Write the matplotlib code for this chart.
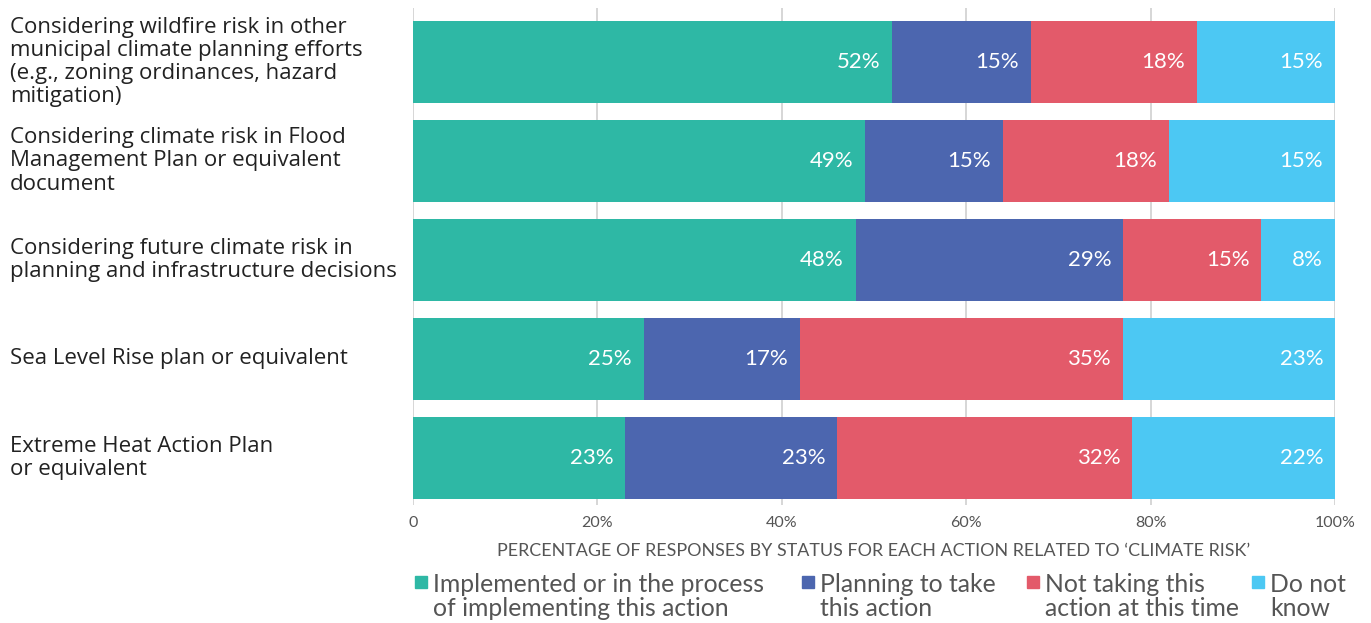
import numpy as np
import matplotlib.pyplot as plt
from matplotlib.transforms import blended_transform_factory
from matplotlib.patches import Rectangle

plt.rcParams['font.family'] = ['Lato', 'DejaVu Sans']

actions = [
    "Considering wildfire risk in other\nmunicipal climate planning efforts\n(e.g., zoning ordinances, hazard\nmitigation)",
    "Considering climate risk in Flood\nManagement Plan or equivalent\ndocument",
    "Considering future climate risk in\nplanning and infrastructure decisions",
    "Sea Level Rise plan or equivalent",
    "Extreme Heat Action Plan\nor equivalent",
]
statuses = [
    "Implemented or in the process\nof implementing this action",
    "Planning to take\nthis action",
    "Not taking this\naction at this time",
    "Do not\nknow",
]
colors = ['#2EB8A5', '#4C66AF', '#E35A6A', '#4CC8F3']

# segment widths as drawn in the picture
implemented = [52, 49, 48, 25, 23]
planning = [15, 15, 29, 17, 23]
not_taking = [18, 18, 15, 35, 32]
dont_know = [15, 18, 8, 23, 22]
# printed labels
implemented_lbl = [52, 49, 48, 25, 23]
planning_lbl = [15, 15, 29, 17, 23]
not_taking_lbl = [18, 18, 15, 35, 32]
dont_know_lbl = [15, 15, 8, 23, 22]

ticks = [0, 20, 40, 60, 80, 100]
tick_labels = ['0', '20%', '40%', '60%', '80%', '100%']

fig = plt.figure(figsize=(13.71, 6.23), dpi=100)
ax = fig.add_axes([413 / 1371, 1 - 505 / 623, 922 / 1371, 497 / 623])

y = np.arange(len(actions))
series = [implemented, planning, not_taking, dont_know]
labels = [implemented_lbl, planning_lbl, not_taking_lbl, dont_know_lbl]
left = np.zeros(len(actions))
for vals, lbls, c in zip(series, labels, colors):
    vals = np.array(vals, dtype=float)
    ax.barh(y, vals, left=left, height=0.83, color=c, zorder=2)
    for yi, l, v, t in zip(y, left, vals, lbls):
        ax.annotate(f"{t}%", (l + v, yi), xytext=(-8.5, 0), textcoords='offset points',
                    ha='right', va='center', color='white', fontsize=16, zorder=3)
    left += vals

ax.set_xlim(0, 100)
ax.set_ylim(4.475, -0.545)
ax.set_xticks(ticks)
ax.set_xticklabels(tick_labels, color='#555555', fontsize=11.5)
ax.set_yticks([])
ax.tick_params(axis='x', length=0, pad=8)
ax.grid(axis='x', color='#d0d0d0', linewidth=1.2, zorder=0)
for s in ax.spines.values():
    s.set_visible(False)

ax.set_xlabel("PERCENTAGE OF RESPONSES BY STATUS FOR EACH ACTION RELATED TO \u2018CLIMATE RISK\u2019",
              color='#555555', fontsize=12.9, labelpad=9)

tr = blended_transform_factory(fig.transFigure, ax.transData)
for yi, name in zip(y, actions):
    ax.text(10 / 1371, yi, name, transform=tr, ha='left', va='center',
            fontsize=16, color='#222222', linespacing=1.14, family='Open Sans')

# legend
leg_x = [415, 802, 1027, 1252]
for x0, name, c in zip(leg_x, statuses, colors):
    fig.patches.append(Rectangle((x0 / 1371, 1 - 588 / 623), 12 / 1371, 12 / 623,
                                 transform=fig.transFigure, color=c))
    fig.text((x0 + 18) / 1371, 1 - 596.5 / 623, name, ha='left', va='center',
             fontsize=17.8, color='#555555', linespacing=1.08)

fig.savefig('out.png', dpi=100)
